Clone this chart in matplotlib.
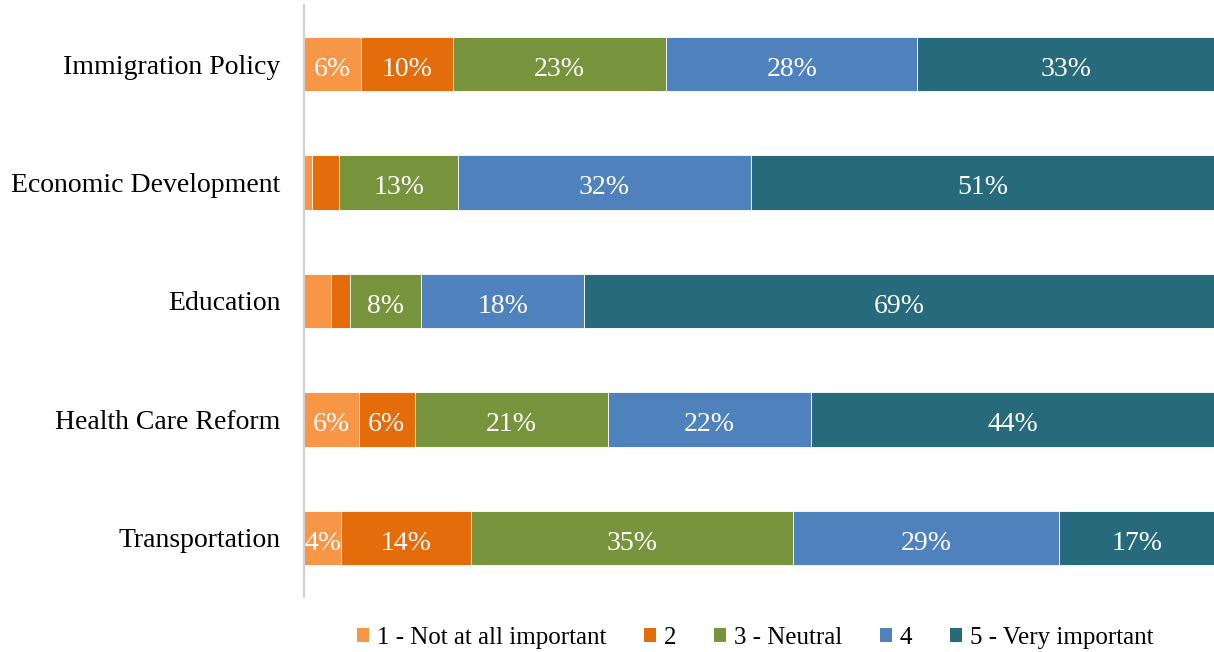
import matplotlib
matplotlib.use("Agg")
import matplotlib.pyplot as plt
from matplotlib.patches import Patch

categories = ["Immigration Policy", "Economic Development", "Education",
              "Health Care Reform", "Transportation"]
series_names = ["1 - Not at all important", "2", "3 - Neutral", "4", "5 - Very important"]
s1 = [6.3, 0.9, 3.0, 6.0, 4.1]
s2 = [10.1, 3.0, 2.0, 6.2, 14.2]
s3 = [23.4, 13.0, 7.9, 21.2, 35.4]
s4 = [27.6, 32.2, 17.9, 22.3, 29.3]
s5 = [32.6, 50.9, 69.2, 44.3, 17.0]
series = [s1, s2, s3, s4, s5]
colors = ["#F79646", "#E46C0A", "#77933C", "#4F81BD", "#276A7C"]

font = "Liberation Serif"
fig = plt.figure(figsize=(12.14, 6.52), dpi=100)
ax = fig.add_axes([304/1214, 55/652, 1 - 304/1214, 592/652])

y = list(range(len(categories)))
left = [0.0] * len(categories)
for vals, name, col in zip(series, series_names, colors):
    ax.barh(y, vals, left=left, height=0.46, color=col, edgecolor="white",
            linewidth=0.6, label=name)
    for yi, (l, v) in enumerate(zip(left, vals)):
        if v >= 3.5:
            ax.text(l + v / 2, yi + 0.02, f"{round(v):.0f}%", ha="center",
                    va="center_baseline", color="white", fontsize=20, family=font)
    left = [a + b for a, b in zip(left, vals)]

ax.set_xlim(0, 100)
ax.set_ylim(len(categories) - 0.5, -0.5)
ax.set_yticks(y)
ax.set_yticklabels(categories, fontsize=20, family=font, va="center_baseline")
ax.tick_params(axis="y", length=0, pad=17)
ax.set_xticks([])
for s in ["top", "right", "bottom"]:
    ax.spines[s].set_visible(False)
ax.spines["left"].set_color("#D0D0D0")
ax.spines["left"].set_linewidth(1.5)

handles = [Patch(facecolor=c, label=n) for c, n in zip(colors, series_names)]
fig.legend(handles=handles, loc="center", bbox_to_anchor=(755/1214, 1 - 638/652),
           ncol=5, frameon=False, prop={"family": font, "size": 18},
           handlelength=0.5, handleheight=0.5, handletextpad=0.3, columnspacing=1.5)

fig.savefig("out.png", dpi=100)
